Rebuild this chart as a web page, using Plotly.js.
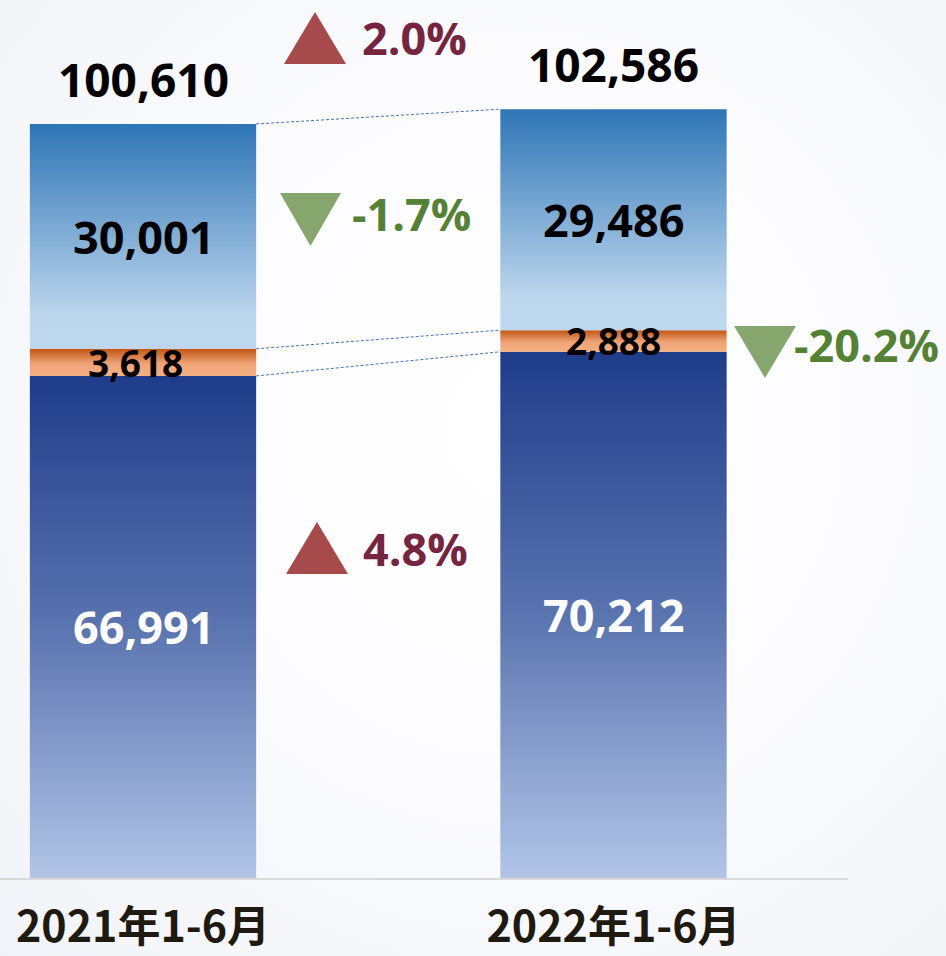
<!DOCTYPE html>
<html><head><meta charset="utf-8">
<script src="https://cdn.plot.ly/plotly-3.0.1.min.js"></script>
<style>
html,body{margin:0;padding:0;}
body{width:946px;height:956px;overflow:hidden;background:radial-gradient(ellipse at 55% 45%, #ffffff 0%, #fcfcfe 45%, #f1f3f8 100%);}
#chart{width:946px;height:956px;}
</style>
</head><body><div id="chart"></div>
<script>
// ---- data ----
const periods = ['2021年1-6月', '2022年1-6月'];
const bottomValues = [66991, 70212];
const middleValues = [3618, 2888];
const topValues = [30001, 29486];
const totals = [100610, 102586];

// ---- styles ----
const W = 946, PLOT_BOTTOM = 878;
const px2x = px => px / W;
const py2y = py => (PLOT_BOTTOM - py) / PLOT_BOTTOM;
const hw = 0.2405;
const NUM_FONT = 'Open Sans, Noto Sans, sans-serif';

const segs = [
  {vals: bottomValues, scale: [[0,'#B2C5E7'],[0.5,'#5A74B0'],[1,'#1F3C8A']], color: '#ffffff', size: 45, xshift: [0, 0]},
  {vals: middleValues, scale: [[0,'#F4B183'],[0.45,'#EFA377'],[1,'#C25511']], color: '#000000', size: 37, xshift: [-8, 0]},
  {vals: topValues, scale: [[0,'#BDD7EE'],[0.15,'#BCD6ED'],[1,'#2E75B6']], color: '#000000', size: 45, xshift: [0, 0]}
];

const traces = [];
const annotations = [];
const cum = periods.map(() => []);

periods.forEach((p, i) => {
  let base = 0;
  cum[i].push(0);
  segs.forEach(s => {
    const v = s.vals[i];
    const top = base + v;
    traces.push({
      type: 'scatter', mode: 'lines',
      x: [i - hw, i + hw, i + hw, i - hw, i - hw],
      y: [base, base, top, top, base],
      fill: 'toself',
      fillgradient: {type: 'vertical', colorscale: s.scale, start: base, stop: top},
      line: {width: 0, color: 'rgba(0,0,0,0)'},
      hoverinfo: 'skip', showlegend: false
    });
    annotations.push({
      x: i, y: base + v / 2, xref: 'x', yref: 'y',
      text: v.toLocaleString('en-US'), showarrow: false,
      font: {family: NUM_FONT, size: s.size, color: s.color, weight: 'bold'},
      yanchor: 'middle', xanchor: 'center', xshift: s.xshift[i]
    });
    base = top;
    cum[i].push(top);
  });
  annotations.push({
    x: i, y: totals[i], xref: 'x', yref: 'y',
    text: totals[i].toLocaleString('en-US'), showarrow: false,
    font: {family: NUM_FONT, size: 46, color: '#000000', weight: 'bold'},
    yanchor: 'middle', xanchor: 'center', yshift: 45
  });
});

// dashed connectors
[1, 2, 3].forEach(k => {
  traces.push({
    type: 'scatter', mode: 'lines',
    x: [0 + hw, 1 - hw], y: [cum[0][k], cum[1][k]],
    line: {color: '#4472C4', width: 1, dash: '3px,2px'},
    hoverinfo: 'skip', showlegend: false
  });
});

// change labels
const pct = (a, b) => (b / a - 1) * 100;
const changes = [
  {val: pct(totals[0], totals[1]), tri: [284, 346, 12, 64], tx: 414, ty: 38},
  {val: pct(topValues[0], topValues[1]), tri: [280, 341, 193, 246], tx: 411, ty: 214},
  {val: pct(bottomValues[0], bottomValues[1]), tri: [286, 348, 522, 574], tx: 415, ty: 548},
  {val: pct(middleValues[0], middleValues[1]), tri: [734, 796, 326, 378], tx: 866, ty: 344}
];
const shapes = [];
changes.forEach(c => {
  const up = c.val >= 0;
  const [l, r, t, b] = c.tri;
  const xl = px2x(l), xr = px2x(r), xc = px2x((l + r) / 2);
  const yt = py2y(t), yb = py2y(b);
  const path = up
    ? `M ${xl},${yb} L ${xr},${yb} L ${xc},${yt} Z`
    : `M ${xl},${yt} L ${xr},${yt} L ${xc},${yb} Z`;
  shapes.push({type: 'path', xref: 'paper', yref: 'paper', path: path,
    fillcolor: up ? '#A64A4B' : '#86A66E', line: {width: 0}});
  annotations.push({
    x: px2x(c.tx), y: py2y(c.ty), xref: 'paper', yref: 'paper',
    text: c.val.toFixed(1) + '%', showarrow: false,
    font: {family: NUM_FONT, size: 45, color: up ? '#76243F' : '#548235', weight: 'bold'},
    xanchor: 'center', yanchor: 'middle'
  });
});

const xmin = -143 / 470.5;
const xmax = xmin + 848 / 470.5;

const layout = {
  width: 946, height: 956,
  margin: {l: 0, r: 0, t: 0, b: 78, pad: 0},
  paper_bgcolor: 'rgba(0,0,0,0)', plot_bgcolor: 'rgba(0,0,0,0)',
  showlegend: false,
  xaxis: {
    domain: [0, 848 / 946], range: [xmin, xmax],
    tickvals: [0, 1], ticktext: periods, ticks: '',
    showgrid: false, zeroline: false,
    showline: true, linecolor: '#D9D9D9', linewidth: 2,
    tickfont: {family: 'Noto Sans CJK SC, sans-serif', size: 43, color: '#1F1A10', weight: 'bold'},
    ticklabelstandoff: 10, fixedrange: true
  },
  yaxis: {
    range: [0, 117150], visible: false, showgrid: false, zeroline: false, fixedrange: true
  },
  annotations: annotations,
  shapes: shapes
};

Plotly.newPlot('chart', traces, layout, {displayModeBar: false, staticPlot: true});
</script>
</body></html>
